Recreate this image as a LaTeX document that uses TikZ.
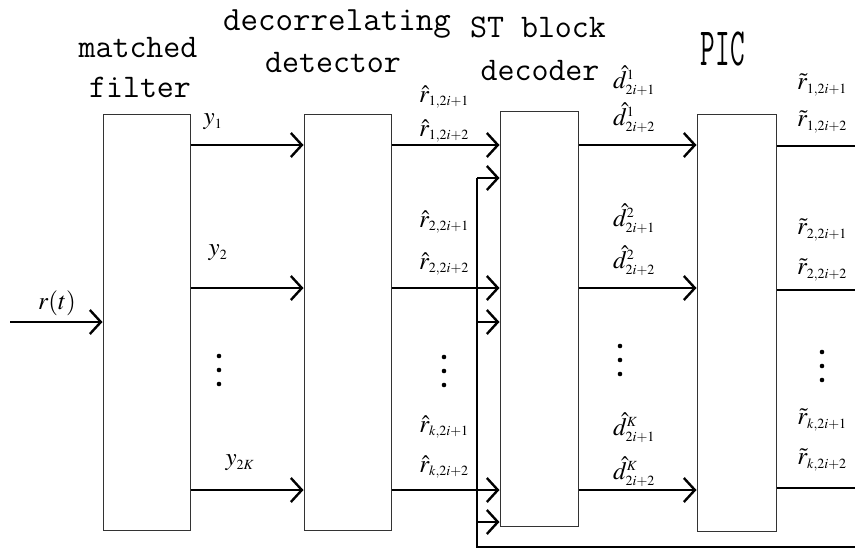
\documentclass[tikz,border=0pt]{standalone}
\usepackage{amsmath}
\usepackage{mathptmx}
\usepackage{graphicx}
\usetikzlibrary{arrows.meta}
\DeclareMathSizes{25}{25}{14}{10}
\renewcommand{\ttdefault}{lmtt}

\begin{document}
\begin{tikzpicture}[x=1pt,y=-1pt,
  blk/.style={draw=black!80,line width=1pt,inner sep=0pt},
  sig/.style={line width=2.4pt,-{Straight Barb[length=11pt,width=24pt]}},
  wire/.style={line width=2.4pt},
  ttl/.style={font=\fontsize{33}{36}\selectfont\ttfamily,anchor=base,inner sep=0pt},
  lbl/.style={font=\fontsize{25}{28}\selectfont,inner sep=0pt}
]
\useasboundingbox (0,0) rectangle (855,549);

% processing blocks
\node[blk,minimum width=87pt,minimum height=416pt] (mf)  at (146.5,322) {};
\node[blk,minimum width=87pt,minimum height=416pt] (dd)  at (347.5,322) {};
\node[blk,minimum width=78pt,minimum height=415pt] (stb) at (539,318.5) {};
\node[blk,minimum width=79pt,minimum height=417pt] (pic) at (736.5,322.5) {};

% block titles
\node[ttl] (t1a) at (138,57) {matched};
\node[ttl] (t1b) at (140,97) {filter};
\node[ttl,font=\fontsize{34}{36}\selectfont\ttfamily] (t2a) at (337,30) {decorrelating};
\node[ttl] (t2b) at (333,72) {detector};
\node[ttl] (t3a) at (538,37) {ST block};
\node[ttl] (t3b) at (540,80) {decoder};
\node[ttl,font=\fontsize{30}{34}\selectfont\ttfamily] (t4) at (723,65) {\scalebox{0.95}[1.8]{PIC}};

% row levels
\coordinate (in) at (10,322);
\coordinate (ra) at (0,145);
\coordinate (rb) at (0,288);
\coordinate (rc) at (0,490);

% input
\draw[sig] (in) -- (mf.west |- in);

% matched filter -> decorrelator
\draw[sig] (mf.east |- ra) -- (dd.west |- ra);
\draw[sig] (mf.east |- rb) -- (dd.west |- rb);
\draw[sig] (mf.east |- rc) -- (dd.west |- rc);

% decorrelator -> ST block decoder
\draw[sig] (dd.east |- ra) -- (stb.west |- ra);
\draw[sig] (dd.east |- rb) -- (stb.west |- rb);
\draw[sig] (dd.east |- rc) -- (stb.west |- rc);

% ST block decoder -> PIC
\draw[sig] (stb.east |- ra) -- (pic.west |- ra);
\draw[sig] (stb.east |- rb) -- (pic.west |- rb);
\draw[sig] (stb.east |- rc) -- (pic.west |- rc);

% PIC outputs
\coordinate (oa) at (855,146);
\coordinate (ob) at (855,290);
\coordinate (oc) at (855,488);
\draw[wire] (pic.east |- oa) -- (oa);
\draw[wire] (pic.east |- ob) -- (ob);
\draw[wire] (pic.east |- oc) -- (oc);

% feedback bus into the ST block decoder
\coordinate (fbt) at (477,178);
\coordinate (fbm) at (477,322);
\coordinate (fbl) at (477,522);
\coordinate (fbb) at (477,547);
\coordinate (fbe) at (855,547);
\draw[wire] (fbt) -- (fbb) -- (fbe);
\draw[sig] (fbt) -- (stb.west |- fbt);
\draw[sig] (fbm) -- (stb.west |- fbm);
\draw[sig] (fbl) -- (stb.west |- fbl);

% signal labels
\node[lbl] (lr)  at (57,303)  {$r(t)$};
\node[lbl] (ly1) at (213,122) {$y_1$};
\node[lbl] (ly2) at (218,253) {$y_2$};
\node[lbl] (lyk) at (240,463) {$y_{2K}$};

\node[lbl] (la1) at (444,97)  {$\hat{r}_{1,2i+1}$};
\node[lbl] (la2) at (444,131) {$\hat{r}_{1,2i+2}$};
\node[lbl] (lb1) at (444,222) {$\hat{r}_{2,2i+1}$};
\node[lbl] (lb2) at (444,264) {$\hat{r}_{2,2i+2}$};
\node[lbl] (lc1) at (444,427) {$\hat{r}_{k,2i+1}$};
\node[lbl] (lc2) at (444,467) {$\hat{r}_{k,2i+2}$};

\node[lbl] (da1) at (634,81)  {$\hat{d}^{1}_{2i+1}$};
\node[lbl] (da2) at (634,118) {$\hat{d}^{1}_{2i+2}$};
\node[lbl] (db1) at (634,219) {$\hat{d}^{2}_{2i+1}$};
\node[lbl] (db2) at (634,261) {$\hat{d}^{2}_{2i+2}$};
\node[lbl] (dc1) at (634,428) {$\hat{d}^{K}_{2i+1}$};
\node[lbl] (dc2) at (634,472) {$\hat{d}^{K}_{2i+2}$};

\node[lbl] (ta1) at (822,85)  {$\tilde{r}_{1,2i+1}$};
\node[lbl] (ta2) at (822,122) {$\tilde{r}_{1,2i+2}$};
\node[lbl] (tb1) at (822,230) {$\tilde{r}_{2,2i+1}$};
\node[lbl] (tb2) at (822,270) {$\tilde{r}_{2,2i+2}$};
\node[lbl] (tc1) at (822,420) {$\tilde{r}_{k,2i+1}$};
\node[lbl] (tc2) at (822,460) {$\tilde{r}_{k,2i+2}$};

% vertical ellipses
\foreach \x/\y in {219/356, 444/357, 620/346, 822/352}{
  \fill (\x,\y) circle (2.3pt);
  \fill (\x,\y+14) circle (2.3pt);
  \fill (\x,\y+28) circle (2.3pt);
}
\end{tikzpicture}
\end{document}
